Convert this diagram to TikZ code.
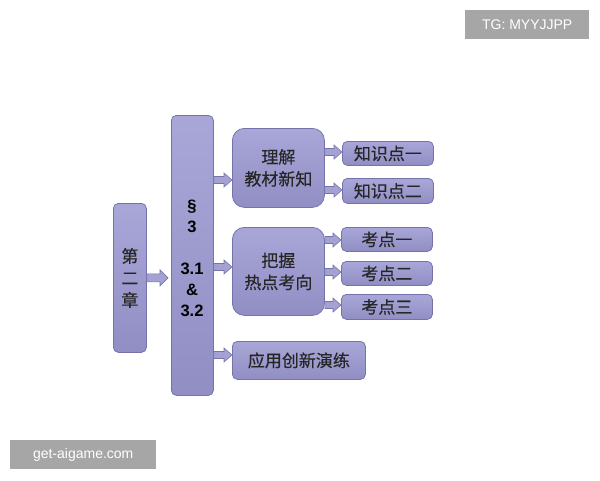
\documentclass[tikz,border=0pt]{standalone}
\usepackage{fontspec}
\setmainfont{Liberation Sans}
\newfontfamily\cjk[FakeBold=0.4]{Noto Sans CJK SC}
\usetikzlibrary{calc}
\definecolor{boxtop}{HTML}{A9A6D8}
\definecolor{boxbot}{HTML}{918EC4}
\definecolor{boxline}{HTML}{7673AC}
\definecolor{arrfill}{HTML}{A4A1D3}
\definecolor{wm}{HTML}{A6A6A6}
\tikzset{
  box/.style={draw=boxline, line width=0.8pt, top color=boxtop, bottom color=boxbot,
    rounded corners=5pt, inner sep=0pt, align=center, text=black!85},
  bigbox/.style={box, rounded corners=12pt},
  cjkt/.style={font=\cjk\fontsize{17}{22}\selectfont},
  barrow/.style={draw=boxline, line width=0.6pt, fill=arrfill},
  wmbox/.style={fill=wm, text=white, inner sep=0pt, font=\fontsize{14}{16}\selectfont}
}
\newcommand\blockarrow[3]{%
  \draw[barrow] let \p1=(#1), \p2=(#2) in
    (\x1,\y1+#3) -- (\x2-8pt,\y1+#3) -- (\x2-8pt,\y1+2*#3) -- (\x2,\y1)
    -- (\x2-8pt,\y1-2*#3) -- (\x2-8pt,\y1-#3) -- (\x1,\y1-#3) -- cycle;}
\begin{document}
\begin{tikzpicture}[x=1pt,y=-1pt]
\useasboundingbox (0,0) rectangle (600,480);
% boxes
\node[box, minimum width=33pt, minimum height=149pt, cjkt, anchor=north west] (ch) at (113,203)
  {第\\二\\章};
\node[box, minimum width=42pt, minimum height=280pt, anchor=north west] (s) at (171,115) {};
\node[align=center, font=\bfseries\fontsize{16.5}{21}\selectfont, inner sep=0pt] (stxt) at (192,258)
  {§\\3\\[21pt]3.1\\\&\\3.2};
\node[bigbox, minimum width=92pt, minimum height=79pt, anchor=north west, cjkt] (lj) at (232,128)
  {理解\\教材新知};
\node[box, minimum width=91pt, minimum height=24pt, anchor=north west, cjkt] (z1) at (342,141) {知识点一};
\node[box, minimum width=91pt, minimum height=25pt, anchor=north west, cjkt] (z2) at (342,178) {知识点二};
\node[bigbox, minimum width=92pt, minimum height=88pt, anchor=north west, cjkt] (bw) at (232,227)
  {把握\\热点考向};
\node[box, minimum width=91pt, minimum height=24pt, anchor=north west, cjkt] (k1) at (341,227) {考点一};
\node[box, minimum width=91pt, minimum height=24pt, anchor=north west, cjkt] (k2) at (341,261) {考点二};
\node[box, minimum width=91pt, minimum height=25pt, anchor=north west, cjkt] (k3) at (341,294) {考点三};
\node[box, minimum width=133pt, minimum height=38pt, anchor=north west, cjkt] (yy) at (232,341) {应用创新演练};
% connectors
\coordinate (a0e) at ($(s.west|-ch.east)+(-3,0)$);
\blockarrow{ch.east}{a0e}{4pt}
\coordinate (a1s) at (s.east|-0,180);
\coordinate (a1e) at (lj.west|-0,180);
\blockarrow{a1s}{a1e}{3.5pt}
\coordinate (a2s) at (s.east|-0,267);
\coordinate (a2e) at (bw.west|-0,267);
\blockarrow{a2s}{a2e}{3.5pt}
\coordinate (a3s) at (s.east|-0,355);
\coordinate (a3e) at (yy.west|-0,355);
\blockarrow{a3s}{a3e}{3.5pt}
\coordinate (b1s) at (lj.east|-0,152);
\coordinate (b1e) at (z1.west|-0,152);
\blockarrow{b1s}{b1e}{3.5pt}
\coordinate (b2s) at (lj.east|-0,190);
\coordinate (b2e) at (z2.west|-0,190);
\blockarrow{b2s}{b2e}{3.5pt}
\coordinate (c1s) at (bw.east|-0,240);
\coordinate (c1e) at (k1.west|-0,240);
\blockarrow{c1s}{c1e}{3.5pt}
\coordinate (c2s) at (bw.east|-0,272);
\coordinate (c2e) at (k2.west|-0,272);
\blockarrow{c2s}{c2e}{3.5pt}
\coordinate (c3s) at (bw.east|-0,305);
\coordinate (c3e) at (k3.west|-0,305);
\blockarrow{c3s}{c3e}{3.5pt}
% watermarks
\node[wmbox, minimum width=124pt, minimum height=29pt, anchor=north west] (w1) at (465,10) {TG: MYYJJPP};
\node[wmbox, minimum width=146pt, minimum height=29pt, anchor=north west] (w2) at (10,440) {get-aigame.com};
\end{tikzpicture}
\end{document}
